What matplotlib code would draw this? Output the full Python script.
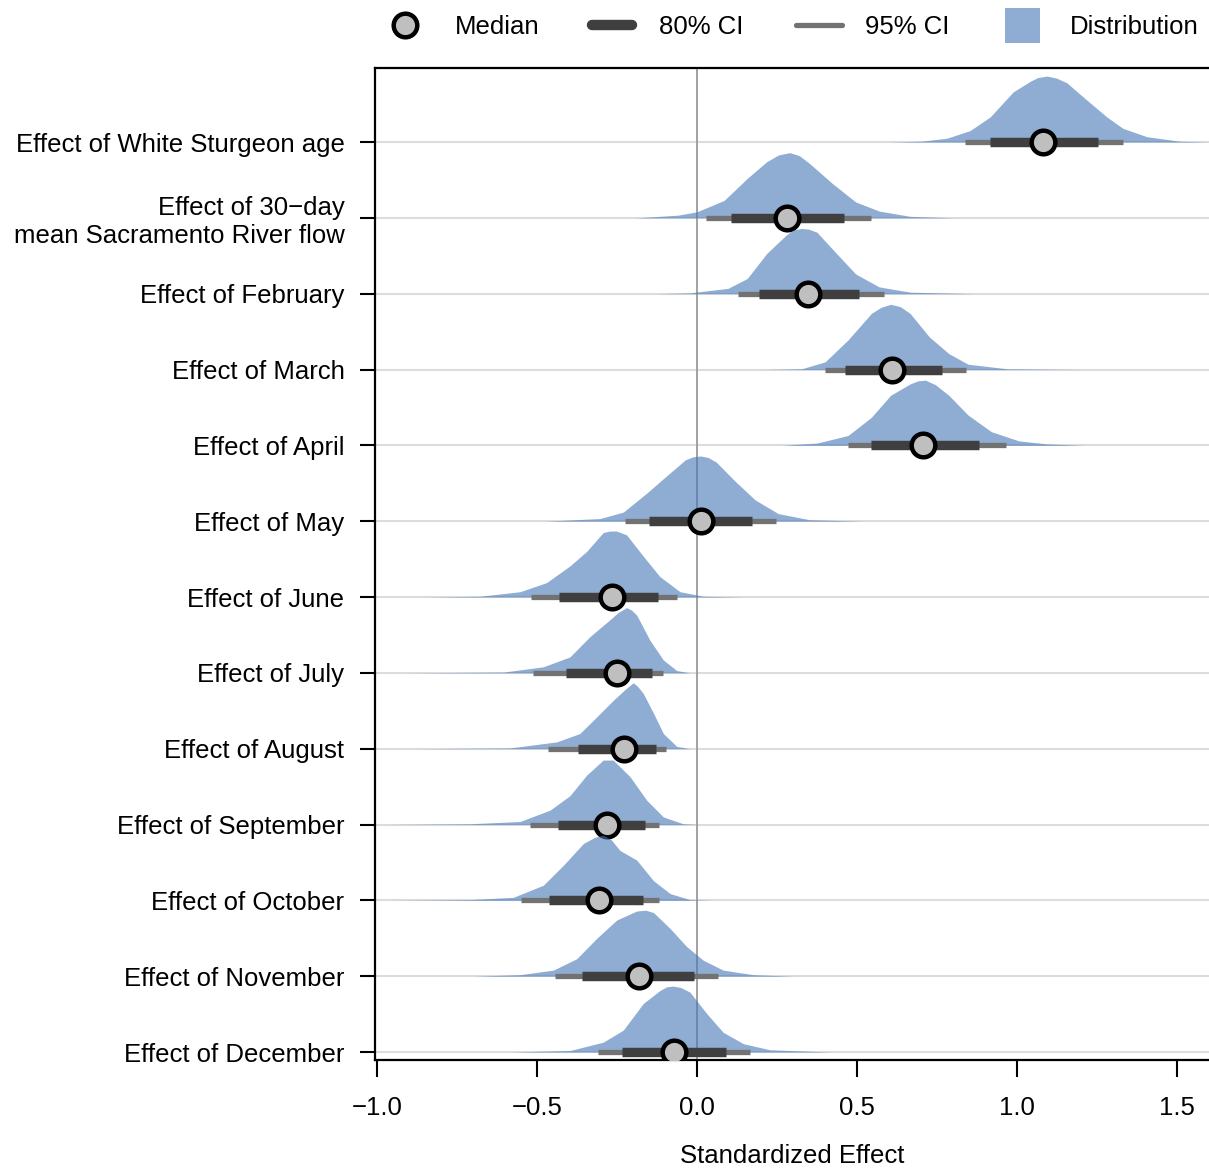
import numpy as np
import matplotlib
matplotlib.use("Agg")
import matplotlib.pyplot as plt
from matplotlib.patches import Rectangle

plt.rcParams['font.family'] = ['Liberation Sans', 'DejaVu Sans']

# effects, top to bottom
labels = ["Effect of White Sturgeon age",
          "Effect of 30\u2212day\nmean Sacramento River flow",
          "Effect of February", "Effect of March", "Effect of April",
          "Effect of May", "Effect of June", "Effect of July",
          "Effect of August", "Effect of September", "Effect of October",
          "Effect of November", "Effect of December"]

medians = [1.081, 0.282, 0.347, 0.609, 0.706, 0.012, -0.267,
           -0.251, -0.228, -0.282, -0.305, -0.180, -0.072]
ci80_lo = [0.916, 0.107, 0.194, 0.464, 0.545, -0.151, -0.431,
           -0.410, -0.371, -0.433, -0.462, -0.358, -0.233]
ci80_hi = [1.253, 0.460, 0.506, 0.766, 0.881, 0.173, -0.121,
           -0.142, -0.128, -0.163, -0.168, -0.010, 0.090]
ci95_lo = [0.838, 0.028, 0.127, 0.400, 0.472, -0.224, -0.519,
           -0.511, -0.465, -0.522, -0.550, -0.444, -0.310]
ci95_hi = [1.331, 0.545, 0.585, 0.841, 0.965, 0.248, -0.062,
           -0.107, -0.097, -0.118, -0.118, 0.067, 0.166]

# posterior density outlines (x, height in row units)
dens_x = [
    [0.60, 0.70, 0.781, 0.853, 0.916, 0.988, 1.041, 1.065, 1.094, 1.125, 1.156, 1.219, 1.281, 1.331, 1.406, 1.509, 1.60],
    [-0.19, -0.06, 0.0, 0.085, 0.157, 0.218, 0.255, 0.29, 0.32, 0.351, 0.424, 0.496, 0.569, 0.666, 0.805],
    [-0.127, -0.024, 0.097, 0.157, 0.218, 0.278, 0.30, 0.327, 0.35, 0.375, 0.436, 0.496, 0.569, 0.666, 0.866],
    [0.206, 0.327, 0.40, 0.472, 0.545, 0.575, 0.605, 0.635, 0.666, 0.726, 0.787, 0.847, 0.969, 1.20],
    [0.266, 0.375, 0.472, 0.545, 0.605, 0.666, 0.69, 0.714, 0.745, 0.787, 0.847, 0.92, 1.005, 1.09, 1.21],
    [-0.475, -0.303, -0.23, -0.157, -0.097, -0.036, -0.012, 0.012, 0.035, 0.06, 0.121, 0.182, 0.254, 0.351, 0.52],
    [-0.85, -0.678, -0.553, -0.47, -0.397, -0.345, -0.293, -0.272, -0.251, -0.22, -0.168, -0.116, -0.053, 0.02, 0.145],
    [-0.918, -0.605, -0.48, -0.397, -0.334, -0.272, -0.245, -0.22, -0.205, -0.188, -0.147, -0.105, -0.063, -0.022],
    [-0.887, -0.584, -0.438, -0.366, -0.313, -0.261, -0.225, -0.199, -0.185, -0.168, -0.136, -0.105, -0.063, -0.022],
    [-0.98, -0.709, -0.553, -0.459, -0.397, -0.345, -0.293, -0.262, -0.209, -0.157, -0.105, -0.043, 0.01],
    [-0.959, -0.709, -0.574, -0.48, -0.418, -0.355, -0.32, -0.293, -0.268, -0.241, -0.188, -0.136, -0.084, -0.022, 0.04],
    [-0.70, -0.553, -0.449, -0.376, -0.313, -0.251, -0.188, -0.16, -0.136, -0.084, -0.032, 0.02, 0.082, 0.176, 0.301],
    [-0.584, -0.397, -0.293, -0.23, -0.168, -0.116, -0.095, -0.074, -0.05, -0.022, 0.03, 0.082, 0.145, 0.228, 0.416],
]
dens_h = [
    [0.0, 0.01, 0.05, 0.15, 0.33, 0.66, 0.80, 0.85, 0.87, 0.84, 0.78, 0.55, 0.33, 0.18, 0.07, 0.01, 0.0],
    [0.0, 0.035, 0.08, 0.23, 0.52, 0.74, 0.83, 0.86, 0.82, 0.72, 0.45, 0.21, 0.09, 0.02, 0.0],
    [0.0, 0.01, 0.07, 0.20, 0.53, 0.77, 0.84, 0.86, 0.85, 0.81, 0.53, 0.26, 0.09, 0.02, 0.0],
    [0.0, 0.01, 0.10, 0.39, 0.74, 0.82, 0.86, 0.83, 0.74, 0.43, 0.21, 0.07, 0.01, 0.0],
    [0.0, 0.03, 0.13, 0.37, 0.66, 0.81, 0.85, 0.86, 0.80, 0.66, 0.40, 0.18, 0.06, 0.02, 0.0],
    [0.0, 0.035, 0.12, 0.37, 0.59, 0.81, 0.85, 0.86, 0.84, 0.78, 0.52, 0.28, 0.10, 0.02, 0.0],
    [0.0, 0.01, 0.07, 0.19, 0.41, 0.60, 0.85, 0.87, 0.87, 0.82, 0.54, 0.27, 0.07, 0.01, 0.0],
    [0.0, 0.01, 0.08, 0.21, 0.48, 0.70, 0.80, 0.86, 0.83, 0.76, 0.43, 0.17, 0.03, 0.0],
    [0.0, 0.01, 0.09, 0.20, 0.42, 0.64, 0.78, 0.87, 0.82, 0.73, 0.47, 0.20, 0.03, 0.0],
    [0.0, 0.01, 0.04, 0.19, 0.38, 0.65, 0.85, 0.85, 0.63, 0.32, 0.10, 0.01, 0.0],
    [0.0, 0.01, 0.04, 0.20, 0.46, 0.75, 0.83, 0.86, 0.80, 0.66, 0.53, 0.26, 0.09, 0.01, 0.0],
    [0.0, 0.02, 0.08, 0.23, 0.50, 0.74, 0.86, 0.87, 0.84, 0.63, 0.39, 0.21, 0.08, 0.02, 0.0],
    [0.0, 0.02, 0.13, 0.29, 0.64, 0.81, 0.86, 0.87, 0.85, 0.79, 0.51, 0.26, 0.11, 0.03, 0.0],
]

fs = 18.5
dens_col = '#4476b7'
dens_alpha = 0.6

fig = plt.figure(figsize=(12.09, 11.68), dpi=100)
ax = fig.add_axes([375/1209, 108/1168, 834/1209, 992/1168])

n = len(labels)
rows = np.arange(n)[::-1]  # top row gets the largest y

ax.axvline(0, color='#9a9a9a', lw=1.3, zorder=1)

for i in range(n):
    y = rows[i]
    z = 3 + i * 4
    ax.fill_between(dens_x[i], y, y + np.array(dens_h[i]),
                    color=dens_col, alpha=dens_alpha, lw=0, zorder=z)
    ax.plot([ci95_lo[i], ci95_hi[i]], [y, y], color='#727272', lw=3.8,
            solid_capstyle='butt', zorder=z + 1)
    ax.plot([ci80_lo[i], ci80_hi[i]], [y, y], color='#3f3f3f', lw=6.8,
            solid_capstyle='butt', zorder=z + 2)
    ax.plot(medians[i], y, 'o', ms=17, mfc='#bfbfbf', mec='black', mew=3.2,
            zorder=z + 3)

ax.set_xlim(-1.006, 1.6)
ax.set_ylim(-0.105, 12.976)
ax.set_yticks(rows)
ax.set_yticklabels(labels)
ax.set_xticks([-1.0, -0.5, 0.0, 0.5, 1.0, 1.5])
ax.set_xticklabels(['\u22121.0', '\u22120.5', '0.0', '0.5', '1.0', '1.5'])
ax.grid(axis='y', color='#dcdcdc', lw=1.5)
ax.set_axisbelow(True)
ax.tick_params(axis='y', length=11, width=1.5, pad=11, labelsize=fs)
ax.tick_params(axis='x', length=12, width=1.5, pad=14, labelsize=fs)
ax.spines['right'].set_visible(False)
for s in ['left', 'bottom', 'top']:
    ax.spines[s].set_linewidth(1.6)
ax.set_xlabel('Standardized Effect', fontsize=fs, labelpad=17)

# legend strip across the top
lg = fig.add_axes([0, 1 - 60/1168, 1, 60/1168])
lg.set_xlim(0, 1209)
lg.set_ylim(60, 0)
lg.axis('off')
lg.plot(405, 25, 'o', ms=17, mfc='#bfbfbf', mec='black', mew=3.2)
lg.text(455, 27, 'Median', fontsize=fs, va='center')
lg.plot([592, 632], [25, 25], color='#3f3f3f', lw=7.5, solid_capstyle='round')
lg.text(659, 27, '80% CI', fontsize=fs, va='center')
lg.plot([796, 842], [25, 25], color='#727272', lw=3.8, solid_capstyle='round')
lg.text(865, 27, '95% CI', fontsize=fs, va='center')
lg.add_patch(Rectangle((1005, 8), 35, 35, color=dens_col, alpha=dens_alpha, lw=0))
lg.text(1070, 27, 'Distribution', fontsize=fs, va='center')

fig.savefig('out.png', dpi=100)
